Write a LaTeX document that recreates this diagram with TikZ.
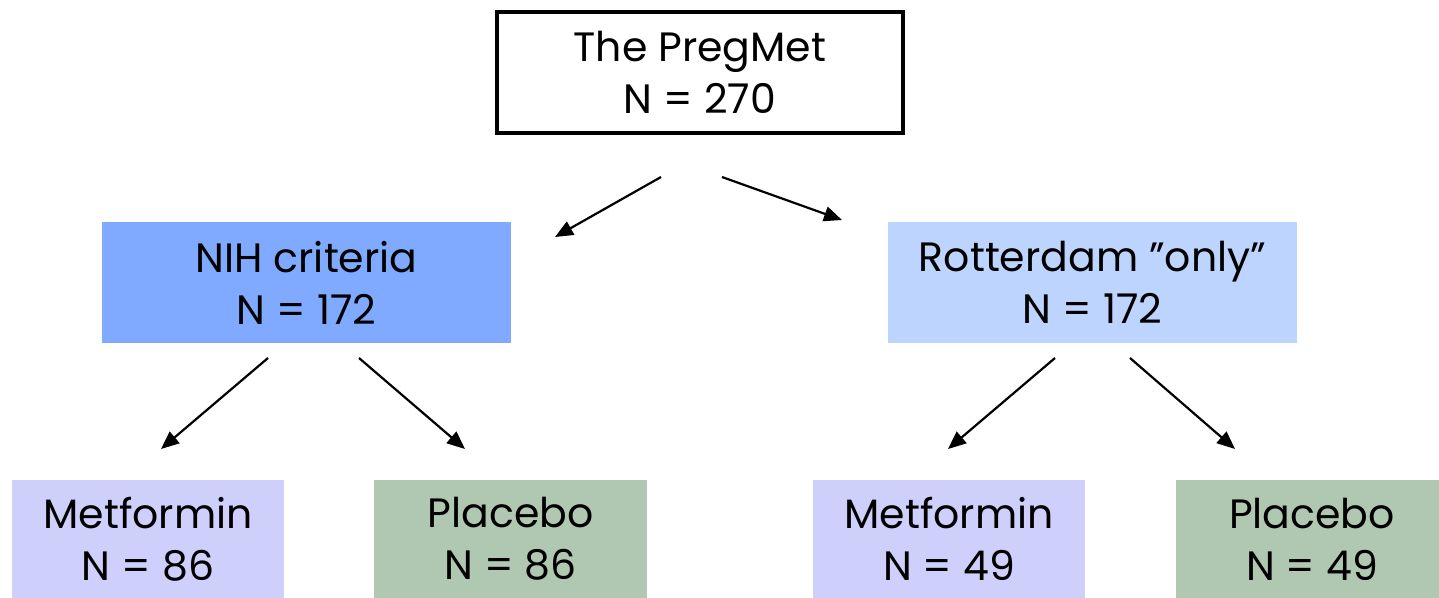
\documentclass[tikz,border=0pt]{standalone}
\usepackage{fontspec}
\setmainfont{Poppins}
\usetikzlibrary{arrows.meta}
\definecolor{nihblue}{HTML}{80AAFF}
\definecolor{rotblue}{HTML}{BDD4FF}
\definecolor{metcol}{HTML}{CFCFFB}
\definecolor{placol}{HTML}{B0C8B2}
\tikzset{
  box/.style={inner sep=0pt, align=center, font=\fontsize{41}{52}\selectfont, text=black},
  arr/.style={line width=2.2pt, -{Triangle[length=18pt,width=15pt]}},
}
\begin{document}
\begin{tikzpicture}[x=1pt,y=-1pt]
\useasboundingbox (0,0) rectangle (1439,597);
\node[box, draw=black, line width=4pt, minimum width=406pt, minimum height=121pt] (top) at (700,72.5) {The PregMet\\N = 270};
\node[box, fill=nihblue, minimum width=409pt, minimum height=121pt] (nih) at (306.5,282.5) {NIH criteria\\N = 172};
\node[box, fill=rotblue, minimum width=409pt, minimum height=121pt] (rot) at (1092.5,282.5) {Rotterdam ”only”\\N = 172};
\node[box, fill=metcol, minimum width=272pt, minimum height=118pt] (m1) at (148,539) {Metformin\\N = 86};
\node[box, fill=placol, minimum width=273pt, minimum height=118pt] (p1) at (510.5,539) {Placebo\\N = 86};
\node[box, fill=metcol, minimum width=272pt, minimum height=118pt] (m2) at (949,539) {Metformin\\N = 49};
\node[box, fill=placol, minimum width=272pt, minimum height=118pt] (p2) at (1312,539) {Placebo\\N = 49};
\coordinate (a1s) at (661,177); \coordinate (a1e) at (555,237);
\coordinate (a2s) at (722,177); \coordinate (a2e) at (842,220);
\coordinate (b1s) at (268,358); \coordinate (b1e) at (161,449);
\coordinate (b2s) at (359,358); \coordinate (b2e) at (465,449);
\coordinate (c1s) at (1055,358); \coordinate (c1e) at (948,449);
\coordinate (c2s) at (1130,358); \coordinate (c2e) at (1235,449);
\draw[arr] (a1s) -- (a1e);
\draw[arr] (a2s) -- (a2e);
\draw[arr] (b1s) -- (b1e);
\draw[arr] (b2s) -- (b2e);
\draw[arr] (c1s) -- (c1e);
\draw[arr] (c2s) -- (c2e);
\end{tikzpicture}
\end{document}
